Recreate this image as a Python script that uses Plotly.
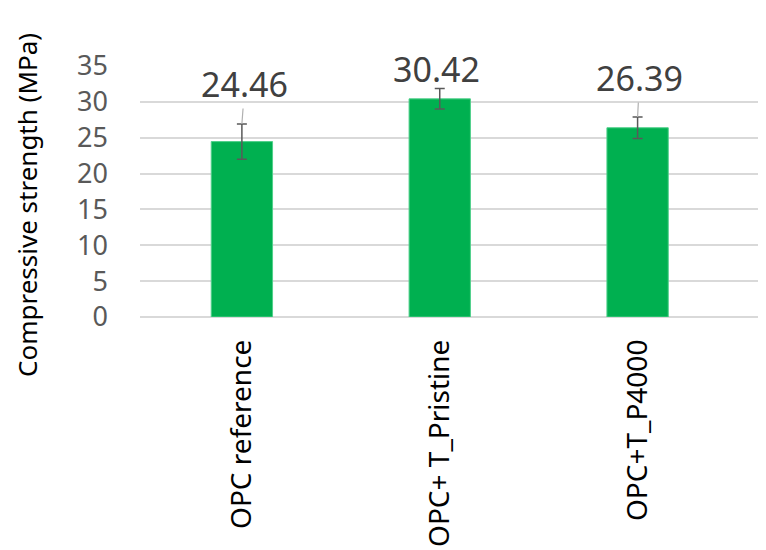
import plotly.graph_objects as go

categories = ["OPC reference", "OPC+ T_Pristine", "OPC+T_P4000"]
strength = [24.46, 30.42, 26.39]
errors = [2.45, 1.43, 1.5]
labels = ["24.46", "30.42", "26.39"]
y_ticks = [0, 5, 10, 15, 20, 25, 30, 35]

FONT = "Noto Sans"
# page body has an 8px margin; figure is placed at (8, 8)
OFF = 8
L, T = 140 - OFF, 66 - OFF
PH = 251
PW = 766 - 140

fig = go.Figure()
fig.add_trace(go.Bar(
    x=categories, y=strength, width=0.31,
    marker=dict(color="#00B050", line=dict(color="#4fd08a", width=1)),
    error_y=dict(type="data", array=errors, visible=True,
                 color="#595959", thickness=1.5, width=5),
    showlegend=False, hoverinfo="skip",
))

label_offsets = [(3, -40), (-3, -20), (2, -39)]
label_arrow = ["#b0b0b0", "rgba(0,0,0,0)", "#b0b0b0"]
for i, c in enumerate(categories):
    fig.add_annotation(
        x=c, y=strength[i] + errors[i], xref="x", yref="y",
        text=labels[i], showarrow=True, arrowhead=0, arrowwidth=1.2,
        arrowcolor=label_arrow[i], ax=label_offsets[i][0], ay=label_offsets[i][1],
        font=dict(family=FONT, size=34, color="#404040"),
    )

fig.add_annotation(
    text="Compressive strength (MPa)", textangle=-90,
    xref="paper", yref="paper", x=(27 - 140) / PW, y=(317 - 205) / PH,
    xanchor="center", yanchor="middle", showarrow=False,
    font=dict(family=FONT, size=26, color="#000000"),
)

fig.update_layout(
    width=766 - OFF, height=550 - OFF,
    margin=dict(l=L, r=0, t=T, b=550 - OFF - T - PH),
    paper_bgcolor="white", plot_bgcolor="white",
    font=dict(family=FONT),
    xaxis=dict(
        range=[-0.515, 2.649], tickangle=-90, showgrid=False,
        tickfont=dict(family=FONT, size=28, color="#000000"),
        ticklabelstandoff=16, showline=False, zeroline=False,
    ),
    yaxis=dict(
        range=[0, 35], tickvals=y_ticks, showgrid=True,
        gridcolor="#d9d9d9", gridwidth=1.5, zeroline=True,
        zerolinecolor="#d9d9d9", zerolinewidth=1.5,
        tickfont=dict(family=FONT, size=27, color="#595959"),
        ticklabelstandoff=31, showline=False,
    ),
    bargap=0.69,
)

fig.write_html("out.html")
